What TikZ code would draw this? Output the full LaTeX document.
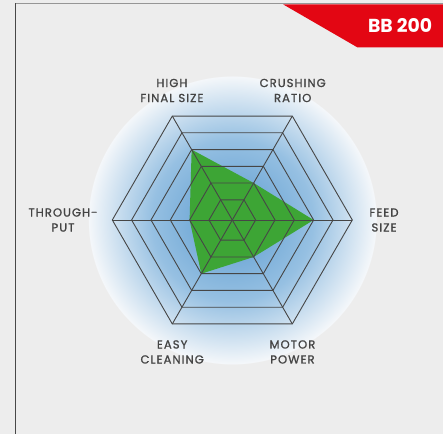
\documentclass[tikz,border=0pt]{standalone}
\usepackage{fontspec}
\setmainfont{Poppins}
\newfontfamily\labelfont{Poppins}[FakeBold=1.2,LetterSpace=9]
\usepackage{xcolor}
\usepackage{tikz}
\usetikzlibrary{positioning}
\usetikzlibrary{calc}
\definecolor{bggray}{RGB}{237,237,237}
\definecolor{framegray}{RGB}{72,72,72}
\definecolor{topgray}{RGB}{150,150,150}
\definecolor{gridgray}{RGB}{70,70,70}
\definecolor{labelgray}{RGB}{68,68,68}
\definecolor{chartgreen}{RGB}{61,165,53}
\definecolor{bannerred}{RGB}{227,6,19}
\definecolor{glowin}{RGB}{112,168,214}
\definecolor{glowmid}{RGB}{150,192,226}
\definecolor{glowout}{RGB}{244,247,250}
\pgfdeclareradialshading{glow}{\pgfpoint{0bp}{0bp}}{color(0bp)=(glowin); color(5bp)=(glowin); color(14bp)=(glowmid); color(24.9bp)=(glowout); color(25bp)=(bggray); color(50bp)=(bggray)}
\tikzset{grid line/.style={draw=gridgray,line width=0.9pt,line join=miter},
         axis label/.style={align=center,text=labelgray,inner sep=0pt,font=\labelfont\fontsize{11.6}{15}\selectfont},
         model label/.style={text=white,inner sep=0pt,font=\fontsize{18.8}{20}\selectfont\bfseries},}

\begin{document}
\begin{tikzpicture}[x=1pt,y=1pt]
	\useasboundingbox[fill=bggray] (0,0) rectangle (443,434);
	\draw[topgray,line width=1.2pt] (15.3,430.2) -- (443,430.2);
	\draw[framegray,line width=1.2pt] (15.3,430.8) -- (15.3,0);
	\fill[bannerred] (283.3,429.5) -- (443,429.5) -- (443,386.7) -- (357.3,386.7) -- cycle;
	\node[model label] (model) at (400,408.7) {BB 200};

	\coordinate (c) at (232.3,214);
	\shade[shading=glow] ($(c)+(-144,-144)$) rectangle ($(c)+(144,144)$);
	\begin{scope}[shift={(c)}]
		\fill[chartgreen] (120:81.3) -- (60:42.7) -- (0:81.3) -- (300:42.7) -- (240:62) -- (180:42.7) -- cycle;
		\foreach \r in {23.3,42.7,62,81.3,100.7,120}
			\draw[grid line] (0:\r) -- (60:\r) -- (120:\r) -- (180:\r) -- (240:\r) -- (300:\r) -- cycle;
		\foreach \a in {0,60,120}
			\draw[grid line] (\a:120) -- (\a+180:120);

		\node[axis label] (final size) at (115:142.9) {HIGH\\FINAL SIZE};
		\node[axis label] (ratio) at (65:142.9) {CRUSHING\\RATIO};
		\node[axis label] (feed) at (0:151.7) {FEED\\SIZE};
		\node[axis label] (power) at (294.5:145) {MOTOR\\POWER};
		\node[axis label] (cleaning) at (245.5:145) {EASY\\CLEANING};
		\node[axis label] (throughput) at (180:169.3) {THROUGH-\\PUT};
	\end{scope}
\end{tikzpicture}
\end{document}
